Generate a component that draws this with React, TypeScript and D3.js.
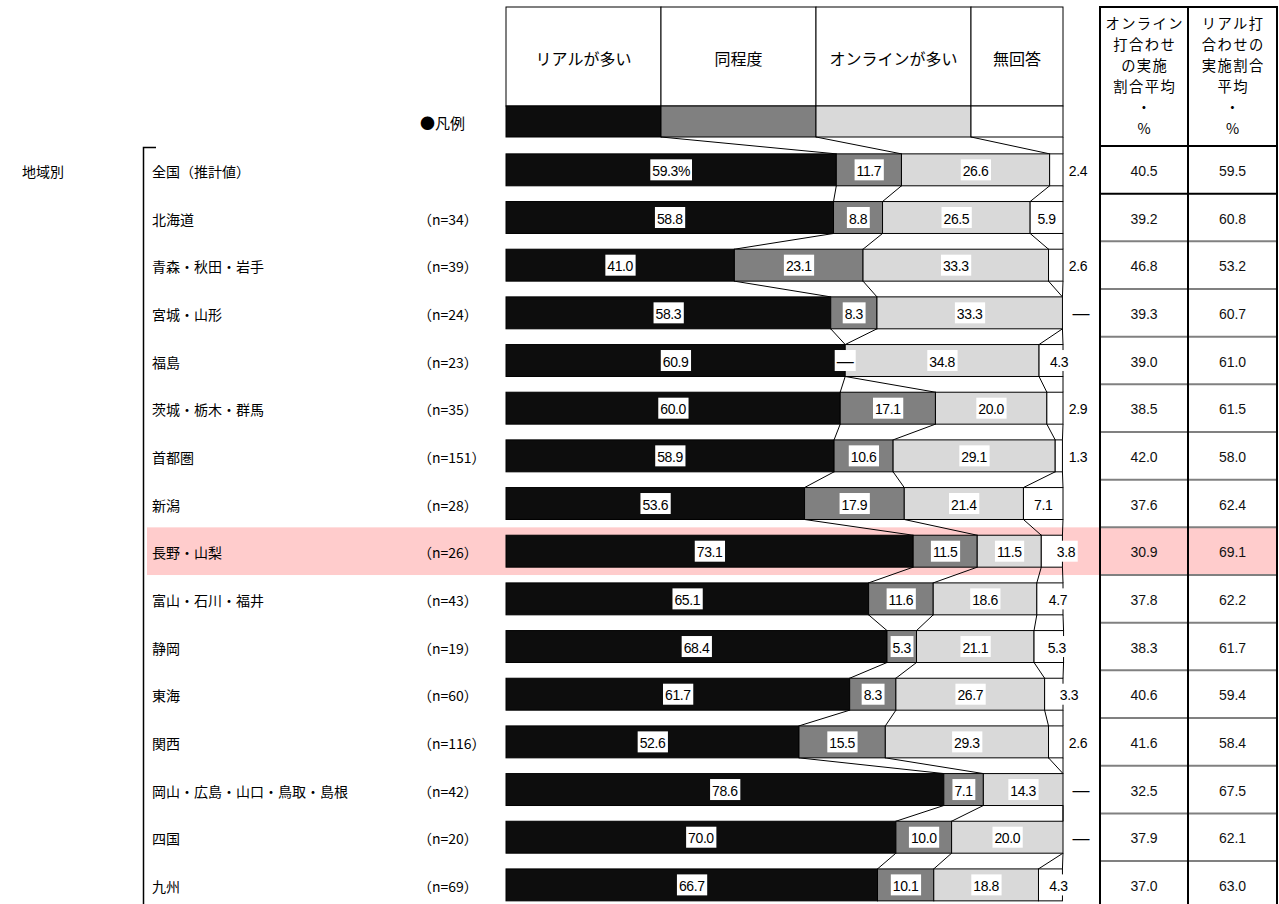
import React, { useEffect, useRef } from "react";
import * as d3 from "d3";

const categories = [
  "全国（推計値）",
  "北海道",
  "青森・秋田・岩手",
  "宮城・山形",
  "福島",
  "茨城・栃木・群馬",
  "首都圏",
  "新潟",
  "長野・山梨",
  "富山・石川・福井",
  "静岡",
  "東海",
  "関西",
  "岡山・広島・山口・鳥取・島根",
  "四国",
  "九州",
];
const sampleSizes: (number | null)[] = [null, 34, 39, 24, 23, 35, 151, 28, 26, 43, 19, 60, 116, 42, 20, 69];
const seriesNames = ["リアルが多い", "同程度", "オンラインが多い", "無回答"];
const realMore = [59.3, 58.8, 41.0, 58.3, 60.9, 60.0, 58.9, 53.6, 73.1, 65.1, 68.4, 61.7, 52.6, 78.6, 70.0, 66.7];
const same = [11.7, 8.8, 23.1, 8.3, 0, 17.1, 10.6, 17.9, 11.5, 11.6, 5.3, 8.3, 15.5, 7.1, 10.0, 10.1];
const onlineMore = [26.6, 26.5, 33.3, 33.3, 34.8, 20.0, 29.1, 21.4, 11.5, 18.6, 21.1, 26.7, 29.3, 14.3, 20.0, 18.8];
const noAnswer = [2.4, 5.9, 2.6, 0, 4.3, 2.9, 1.3, 7.1, 3.8, 4.7, 5.3, 3.3, 2.6, 0, 0, 4.3];
const onlineAvg = [40.5, 39.2, 46.8, 39.3, 39.0, 38.5, 42.0, 37.6, 30.9, 37.8, 38.3, 40.6, 41.6, 32.5, 37.9, 37.0];
const realAvg = [59.5, 60.8, 53.2, 60.7, 61.0, 61.5, 58.0, 62.4, 69.1, 62.2, 61.7, 59.4, 58.4, 67.5, 62.1, 63.0];
const tableHeaderOnline = ["オンライン", "打合わせ", "の実施", "割合平均", "・", "%"];
const tableHeaderReal = ["リアル打", "合わせの", "実施割合", "平均", "・", "%"];
const groupLabel = "地域別";
const legendLabel = "●凡例";
const highlightIndex = 8;

const segColors = ["#0d0d0d", "#808080", "#d9d9d9", "#ffffff"];
const JP = "'Noto Sans CJK JP', 'Noto Sans', sans-serif";
const NUM = "'Liberation Sans', Arial, sans-serif";

export default function App() {
  const ref = useRef<SVGSVGElement>(null);

  useEffect(() => {
    document.body.style.margin = "0";
    const svg = d3.select(ref.current as SVGSVGElement);
    svg.selectAll("*").remove();

    const n = categories.length;
    const x = d3.scaleLinear().domain([0, 100]).range([506, 1063]);
    const tableTop = 146;
    const stepH = 47.67;
    const y = d3
      .scaleBand<number>()
      .domain(d3.range(n))
      .range([tableTop, tableTop + stepH * n])
      .paddingInner(0.33)
      .paddingOuter(0.165);
    const step = y.step();
    const bw = y.bandwidth();
    const rowTop = (i: number) => (y(i) as number) - (step - bw) / 2;
    const rowMid = (i: number) => (y(i) as number) + bw / 2;

    const series = [realMore, same, onlineMore, noAnswer];

    // highlight band
    svg
      .append("rect")
      .attr("x", 147)
      .attr("y", rowTop(highlightIndex))
      .attr("width", 1277 - 147)
      .attr("height", step)
      .attr("fill", "#ffcccc");

    // legend
    const legendColW = 155;
    const legendEdges = [x(0), x(0) + legendColW, x(0) + legendColW * 2, x(0) + legendColW * 3, x(100)];
    const legTop = 7,
      legMid = 106,
      legBot = 137;
    const lg = svg.append("g");
    seriesNames.forEach((name, k) => {
      const x0 = legendEdges[k],
        x1 = legendEdges[k + 1];
      lg.append("rect")
        .attr("x", x0)
        .attr("y", legTop)
        .attr("width", x1 - x0)
        .attr("height", legMid - legTop)
        .attr("fill", "#fff")
        .attr("stroke", "#000")
        .attr("stroke-width", 1);
      lg.append("rect")
        .attr("x", x0)
        .attr("y", legMid)
        .attr("width", x1 - x0)
        .attr("height", legBot - legMid)
        .attr("fill", segColors[k])
        .attr("stroke", "#000")
        .attr("stroke-width", 1);
      lg.append("text")
        .attr("x", (x0 + x1) / 2)
        .attr("y", (legTop + legMid) / 2 + 1)
        .attr("text-anchor", "middle")
        .attr("dominant-baseline", "central")
        .attr("font-family", JP)
        .attr("font-size", 16)
        .text(name);
    });
    svg
      .append("text")
      .attr("x", 420)
      .attr("y", (legMid + legBot) / 2 + 1)
      .attr("dominant-baseline", "central")
      .attr("font-family", JP)
      .attr("font-size", 15)
      .text(legendLabel);

    // boundaries
    const cum = categories.map((_, i) => {
      let s = 0;
      return series.map((sv) => {
        s += sv[i];
        return s;
      });
    });

    // connector lines
    const conn = svg.append("g").attr("stroke", "#000").attr("stroke-width", 1);
    for (let i = -1; i < n - 1; i++) {
      for (let k = 0; k < 4; k++) {
        const xa = i < 0 ? legendEdges[k + 1] : x(cum[i][k]);
        const ya = i < 0 ? legBot : (y(i) as number) + bw;
        const xb = x(cum[i + 1][k]);
        const yb = y(i + 1) as number;
        conn.append("line").attr("x1", xa).attr("y1", ya).attr("x2", xb).attr("y2", yb);
      }
    }

    // bars
    const bars = svg.append("g");
    categories.forEach((_, i) => {
      let start = 0;
      series.forEach((sv, k) => {
        const v = sv[i];
        if (v > 0) {
          bars
            .append("rect")
            .attr("x", x(start))
            .attr("y", y(i) as number)
            .attr("width", x(start + v) - x(start))
            .attr("height", bw)
            .attr("fill", segColors[k])
            .attr("stroke", "#000")
            .attr("stroke-width", 1);
        }
        start += v;
      });
    });

    // bar labels
    const labels = svg.append("g");
    const fmt = d3.format(".1f");
    categories.forEach((_, i) => {
      let start = 0;
      series.forEach((sv, k) => {
        const v = sv[i];
        const c = (x(start) + x(start + v)) / 2;
        let lx = c;
        let boxed = true;
        let txt = i === 0 && k === 0 ? fmt(v) + "%" : fmt(v);
        if (v === 0) {
          txt = "—";
          if (k === 3) {
            lx = x(100) + 18;
            boxed = false;
          }
        } else if (k === 3) {
          if (v < 3) lx = x(100) + 15;
          else if (v < 3.5) lx = x(100) + 6;
          else if (v < 4) lx = x(100) + 3;
          else if (v < 5.5) lx = c + 8;
        }
        const g = labels.append("g");
        const t = g
          .append("text")
          .attr("x", lx)
          .attr("y", rowMid(i) + 1)
          .attr("text-anchor", "middle")
          .attr("dominant-baseline", "central")
          .attr("font-family", NUM)
          .attr("font-size", v === 0 ? 17 : 14)
          .attr("letter-spacing", v === 0 ? 0 : -0.4)
          .attr("fill", "#000")
          .text(txt);
        if (boxed) {
          const bb = (t.node() as SVGTextElement).getBBox();
          g.insert("rect", "text")
            .attr("x", bb.x - 2)
            .attr("y", rowMid(i) - 10.5)
            .attr("width", bb.width + 4)
            .attr("height", 21)
            .attr("fill", "#fff");
        }
        start += v;
      });
    });

    // left labels
    const left = svg.append("g").attr("font-family", JP).attr("font-size", 14).attr("fill", "#000");
    left
      .append("text")
      .attr("x", 22)
      .attr("y", rowMid(0) + 1)
      .attr("dominant-baseline", "central")
      .text(groupLabel);
    svg
      .append("path")
      .attr("d", `M156,${tableTop + 1.5}H143.5V904`)
      .attr("fill", "none")
      .attr("stroke", "#000")
      .attr("stroke-width", 1.5);
    categories.forEach((cat, i) => {
      left
        .append("text")
        .attr("x", 152)
        .attr("y", rowMid(i) + 1)
        .attr("dominant-baseline", "central")
        .text(cat);
      const ns = sampleSizes[i];
      if (ns !== null) {
        left
          .append("text")
          .attr("x", 418)
          .attr("y", rowMid(i) + 1)
          .attr("dominant-baseline", "central")
          .text(`（n=${ns}）`);
      }
    });

    // right table
    const tL = 1100,
      tM = 1188,
      tR = 1277,
      tTop = 7;
    const tg = svg.append("g");
    tg.append("rect")
      .attr("x", tL)
      .attr("y", rowTop(highlightIndex))
      .attr("width", tR - tL)
      .attr("height", step)
      .attr("fill", "#ffcccc");
    for (let i = 1; i < n; i++) {
      tg.append("line")
        .attr("x1", tL)
        .attr("x2", tR)
        .attr("y1", rowTop(i))
        .attr("y2", rowTop(i))
        .attr("stroke", i === 1 ? "#000" : "#808080")
        .attr("stroke-width", 2);
    }
    tg.append("line").attr("x1", tL).attr("x2", tR).attr("y1", tTop).attr("y2", tTop).attr("stroke", "#000").attr("stroke-width", 2);
    tg.append("line")
      .attr("x1", tL)
      .attr("x2", tR)
      .attr("y1", tableTop)
      .attr("y2", tableTop)
      .attr("stroke", "#000")
      .attr("stroke-width", 2);
    [tL, tM, tR].forEach((vx) => {
      tg.append("line").attr("x1", vx).attr("x2", vx).attr("y1", tTop - 1).attr("y2", 904).attr("stroke", "#000").attr("stroke-width", 2);
    });
    const hdrLines = [tableHeaderOnline, tableHeaderReal];
    hdrLines.forEach((lines, c) => {
      const cx = c === 0 ? (tL + tM) / 2 : (tM + tR) / 2;
      lines.forEach((ln, j) => {
        tg.append("text")
          .attr("x", cx + 0.7)
          .attr("y", 22 + j * 21)
          .attr("text-anchor", "middle")
          .attr("dominant-baseline", "central")
          .attr("font-family", JP)
          .attr("font-size", 14.3)
          .attr("letter-spacing", 1.4)
          .text(ln);
      });
    });
    const vals = [onlineAvg, realAvg];
    vals.forEach((arr, c) => {
      const cx = c === 0 ? (tL + tM) / 2 : (tM + tR) / 2;
      arr.forEach((v, i) => {
        tg.append("text")
          .attr("x", cx)
          .attr("y", rowMid(i) + 1)
          .attr("text-anchor", "middle")
          .attr("dominant-baseline", "central")
          .attr("font-family", NUM)
          .attr("font-size", 14)
          .attr("fill", "#111")
          .text(fmt(v));
      });
    });
  }, []);

  return <svg ref={ref} width={1279} height={904} style={{ display: "block", background: "#fff" }} />;
}
